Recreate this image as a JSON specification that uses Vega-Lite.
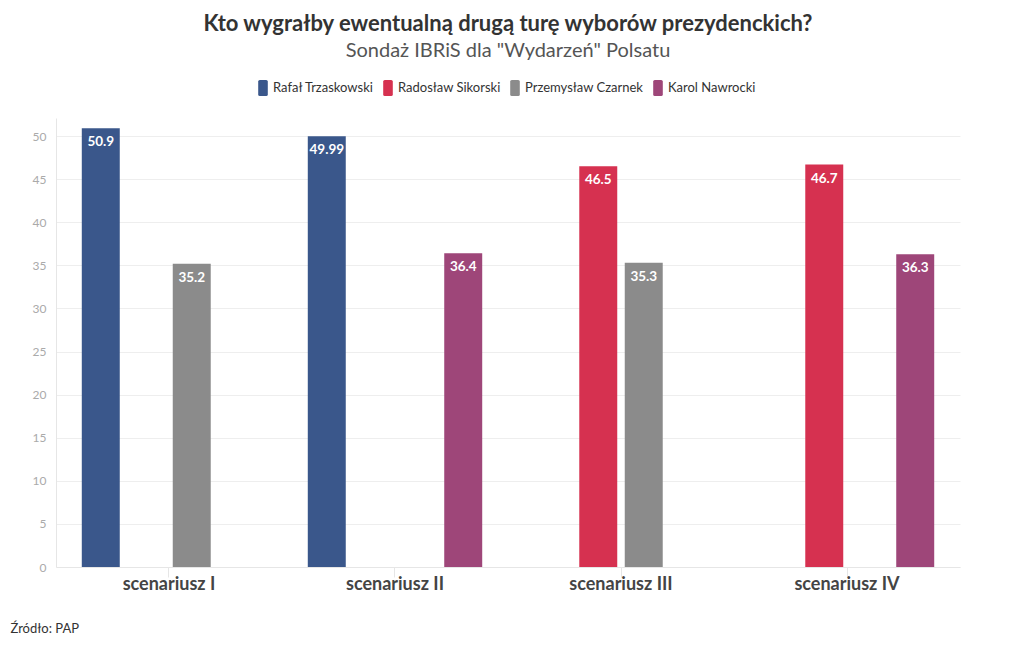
{
  "$schema": "https://vega.github.io/schema/vega-lite/v6.json",
  "width": 904,
  "height": 449,
  "autosize": {"type": "none"},
  "padding": {"left": 56, "top": 118, "right": 60, "bottom": 83},
  "background": "white",
  "view": {"stroke": null},
  "title": {
    "text": "Kto wygrałby ewentualną drugą turę wyborów prezydenckich?",
    "subtitle": "Sondaż IBRiS dla \"Wydarzeń\" Polsatu",
    "anchor": "middle",
    "font": "Lato",
    "fontSize": 22,
    "fontWeight": "bold",
    "color": "#333333",
    "subtitleFont": "Lato",
    "subtitleFontSize": 20,
    "subtitleColor": "#555555",
    "subtitlePadding": 5,
    "offset": 18
  },
  "data": {
    "values": [
      {"scenariusz": "scenariusz I", "kandydat": "Rafał Trzaskowski", "wynik": 50.9},
      {"scenariusz": "scenariusz I", "kandydat": "Przemysław Czarnek", "wynik": 35.2},
      {"scenariusz": "scenariusz II", "kandydat": "Rafał Trzaskowski", "wynik": 49.99},
      {"scenariusz": "scenariusz II", "kandydat": "Karol Nawrocki", "wynik": 36.4},
      {"scenariusz": "scenariusz III", "kandydat": "Radosław Sikorski", "wynik": 46.5},
      {"scenariusz": "scenariusz III", "kandydat": "Przemysław Czarnek", "wynik": 35.3},
      {"scenariusz": "scenariusz IV", "kandydat": "Radosław Sikorski", "wynik": 46.7},
      {"scenariusz": "scenariusz IV", "kandydat": "Karol Nawrocki", "wynik": 36.3}
    ]
  },
  "encoding": {
    "x": {
      "field": "scenariusz",
      "type": "nominal",
      "sort": ["scenariusz I", "scenariusz II", "scenariusz III", "scenariusz IV"],
      "scale": {"paddingInner": 0.195, "paddingOuter": 0.0975},
      "axis": {
        "labelAngle": 0,
        "labelFont": "Lato",
        "labelFontSize": 18,
        "labelFontWeight": "bold",
        "labelColor": "#444444",
        "labelPadding": -2,
        "tickColor": "#e6e6e6",
        "tickSize": 10,
        "domainColor": "#e6e6e6",
        "title": "Źródło: PAP",
        "titleX": -46,
        "titleY": 61,
        "titleAlign": "left",
        "titleBaseline": "middle",
        "titleFont": "Lato",
        "titleFontSize": 13,
        "titleFontWeight": "normal",
        "titleColor": "#333333"
      }
    },
    "xOffset": {
      "field": "kandydat",
      "type": "nominal",
      "sort": ["Rafał Trzaskowski", "Radosław Sikorski", "Przemysław Czarnek", "Karol Nawrocki"],
      "scale": {"paddingInner": 0.165, "paddingOuter": 0.0825}
    },
    "y": {
      "field": "wynik",
      "type": "quantitative",
      "scale": {"domain": [0, 52.1], "nice": false},
      "axis": {
        "values": [0, 5, 10, 15, 20, 25, 30, 35, 40, 45, 50],
        "title": null,
        "labelFont": "Lato",
        "labelFontSize": 12,
        "labelColor": "#aaaaaa",
        "labelPadding": 10,
        "ticks": false,
        "domainColor": "#e6e6e6",
        "gridColor": "#eeeeee"
      }
    }
  },
  "layer": [
    {
      "mark": {"type": "bar"},
      "encoding": {
        "color": {
          "field": "kandydat",
          "type": "nominal",
          "scale": {
            "domain": ["Rafał Trzaskowski", "Radosław Sikorski", "Przemysław Czarnek", "Karol Nawrocki"],
            "range": ["#3a578b", "#d63150", "#8b8b8b", "#9e4679"]
          },
          "legend": {
            "orient": "none",
            "legendX": 199,
            "legendY": -38,
            "direction": "horizontal",
            "title": null,
            "symbolType": "M-0.4,-1 L0.4,-1 Q0.6,-1 0.6,-0.8 L0.6,0.8 Q0.6,1 0.4,1 L-0.4,1 Q-0.6,1 -0.6,0.8 L-0.6,-0.8 Q-0.6,-1 -0.4,-1 Z",
            "symbolSize": 256,
            "symbolOpacity": 1,
            "symbolStrokeWidth": 0,
            "labelFont": "Lato",
            "labelFontSize": 13,
            "labelColor": "#333333",
            "labelOffset": 2,
            "columnPadding": 6
          }
        }
      }
    },
    {
      "mark": {"type": "text", "baseline": "middle", "dy": 14, "color": "white", "font": "Lato", "fontWeight": "bold", "fontSize": 13.5},
      "encoding": {
        "text": {"field": "wynik", "type": "quantitative", "format": ".4~g"}
      }
    }
  ]
}
